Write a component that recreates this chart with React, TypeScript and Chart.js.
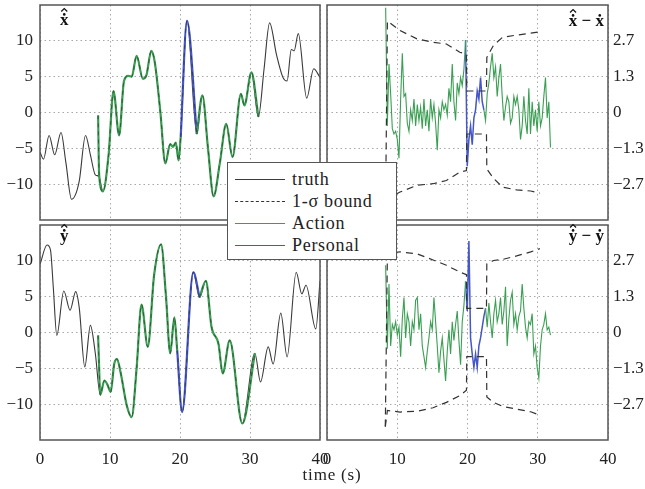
import React, { useEffect, useRef } from "react";
import { Chart, registerables } from "chart.js";

Chart.register(...registerables);

// ---------------- data ----------------
const TIME_TICKS = [0, 10, 20, 30, 40];
const TIME_TICK_LABELS = ["0", "10", "20", "30", "40"];
const STATE_TICKS = [-10, -5, 0, 5, 10];
const STATE_TICK_LABELS = ["−10", "−5", "0", "5", "10"];
const ERR_TICKS = [-2.667, -1.333, 0, 1.333, 2.667];
const ERR_TICK_LABELS = ["−2.7", "−1.3", "0", "1.3", "2.7"];

// truth, x panel
const TRUTH_X_T = [0, 0.5, 1.3, 2.1, 3.0, 3.7, 4.5, 5.6, 6.5, 7.2, 7.9, 8.4, 9.0, 9.8, 10.5, 11.3, 12.0, 12.6, 13.1, 13.8, 14.7, 15.2, 15.9, 16.4, 17.2, 17.9, 18.6, 19.0, 19.4, 19.8, 20.1, 21.0, 22.4, 23.2, 24.0, 24.8, 25.7, 26.6, 27.5, 28.7, 29.2, 30.2, 31.2, 32.0, 32.8, 33.8, 34.7, 35.3, 35.9, 36.3, 36.9, 38.1, 39.1, 40];
const TRUTH_X = [-5.5, -6.5, -3.2, -5.9, -2.8, -7.0, -12.1, -9.6, -3.2, -5.9, -8.7, -8.9, -11.0, -5.9, 3.0, -3.2, 4.4, 5.1, 5.0, 7.9, 4.7, 5.2, 8.6, 7.0, 0.0, -7.1, -4.4, -4.8, -4.2, -6.7, -3.4, 12.8, -3.0, 2.4, -5.0, -11.7, -7.0, -1.6, -6.2, 2.6, 1.0, 5.6, -0.6, 6.0, 12.5, 8.0, 4.9, 4.4, 8.8, 8.6, 11.0, 2.0, 6.1, 4.9];
// truth, y panel
const TRUTH_Y_T = [0, 1.0, 1.5, 1.9, 2.4, 3.4, 4.3, 5.1, 5.6, 6.4, 7.2, 7.9, 8.6, 9.2, 9.6, 10.1, 10.6, 11.0, 11.5, 12.4, 13.1, 13.8, 14.5, 15.4, 16.3, 17.3, 18.0, 18.6, 19.2, 19.6, 20.3, 21.9, 22.8, 23.7, 24.5, 25.5, 26.1, 27.1, 28.9, 30.7, 31.5, 32.6, 33.3, 34.4, 35.3, 36.6, 37.4, 38.0, 39.4, 40];
const TRUTH_Y = [9.5, 12.2, 11.5, 6.3, -0.4, 5.8, 3.1, 5.7, 3.5, -4.8, 1.0, -2.9, -8.7, -6.7, -7.2, -8.3, -4.4, -3.7, -5.5, -10.2, -11.8, -5.0, 3.9, -2.0, 8.0, 12.3, 5.0, -2.9, 2.1, -2.5, -11.1, 8.4, 4.9, 7.2, 0.8, -1.6, -5.7, -1.1, -12.7, -2.9, -6.9, -2.0, -4.4, 2.7, -3.4, 8.4, 5.4, 6.6, 0.5, 7.2];

// estimate start-up transients
const EST_X_INIT_T = [8.3, 8.45];
const EST_X_INIT = [-0.4, -8.7];
const EST_Y_INIT_T = [8.3, 8.42];
const EST_Y_INIT = [-0.4, -4.0];

// estimator mode periods (s)
const ACTION_X_SEGMENTS = [[8.5, 20.1], [22.4, 31.2]];
const PERSONAL_X_SEGMENT = [20.1, 22.4];
const ACTION_Y_SEGMENTS = [[8.5, 19.6], [22.8, 30.7]];
const PERSONAL_Y_SEGMENT = [19.6, 22.8];

// estimation errors, sampled every ERR_DT seconds from ERR_T0
const ERR_T0 = 8.35;
const ERR_DT = 0.237;
const ERR_X = [3.9, -0.5, 1.8, 0.7, -0.6, -0.8, -0.7, -1.0, -1.7, 0.5, 2.2, 0.6, 0.7, -0.4, -0.7, 0.1, -0.3, 0.5, -0.5, 0.3, -0.3, 0.2, -0.6, 0.5, -0.5, 0.1, -0.7, 0.5, -0.2, 0.3, -0.4, -1.4, 0.1, -0.2, 0.4, 0.1, 0.3, -0.1, 0.9, 0.4, 1.8, 0.4, -0.3, 1.1, 0.7, 1.3, 1.0, 1.6, 2.7,
  -2.0, -1.0, -0.5, -1.2, -0.2, 0.1, 0.8, 0.5, 1.3, 0.4, 0.1,
  -0.3, 0.7, 1.1, 1.7, 2.2, 1.3, 1.7, 0.6, 1.3, 1.8, 0.6, -0.3, 0.2, 0.6, 0.4, -0.4, -0.2, 0.6, 0.3, 0.6, 0.1, -1.0, -0.5, 0.6, -0.3, -0.8, 0.9, -0.8, 0.4, -0.5, 0.1, -0.7, 0.4, -0.5, -0.2, 0.6, 1.3, -0.2, 0.4, -1.3];
const ERR_Y = [2.5, -0.6, 1.8, -0.5, 0.3, 0.1, 0.4, -0.1, 0.2, -0.9, 0.5, 1.3, -0.2, 0.7, 0.4, -0.5, 0.4, 0.1, 1.2, 1.3, 0.1, 0.7, -0.5, -0.9, -1.3, -0.7, -0.2, 0.4, 0.1, 1.3, 0.4, -0.5, -1.5, -0.7, -0.2, -1.0, -1.8, -0.7, 0.1, -0.8, 0.4, -0.3, 0.3, 0.8, -0.3, -1.2, 0.4, 1.0, 1.9,
  0.8, 3.4, -0.2, -0.8, -1.3, -0.8, -1.3, -0.5, -0.2, 0.2, 0.6, 0.9,
  0.2, 1.1, 0.4, -0.2, 0.7, 1.2, 0.4, 0.7, 1.3, 0.3, 0.8, 1.7, -0.5, 0.5, 1.2, 1.5, 0.3, 0.7, 0.1, 0.6, 0.8, 1.8, 0.9, 0.2, -0.2, 0.4, 0.3, 0.7, -0.8, -0.5, -1.3, -1.7, -0.5, 0.1, 0.3, 0.7, 0.1, 0.2, -0.1];
const PERSONAL_ERR_X_IDX = [48, 59];
const PERSONAL_ERR_Y_IDX = [48, 60];

// 1-sigma bounds
const BOUND_T = [8.3, 8.6, 10.4, 12.8, 15.1, 17.0, 18.9, 19.85, 19.9, 22.7, 22.75, 23.7, 25.0, 27.0, 29.0, 30.3];
const BOUND_X_UP = [-4.5, 3.4, 3.05, 2.74, 2.61, 2.55, 2.24, 2.17, 0.8, 0.8, 2.05, 2.5, 2.8, 2.88, 2.95, 3.0];
const BOUND_X_LO = [-3.25, -3.2, -2.96, -2.71, -2.65, -2.53, -2.22, -2.16, -0.8, -0.8, -2.1, -2.45, -2.78, -2.88, -2.92, -3.0];
const BOUND_Y_UP = [-3.5, 2.95, 3.0, 2.93, 2.7, 2.5, 2.25, 2.15, 0.9, 0.9, 2.55, 2.68, 2.72, 2.85, 3.0, 3.12];
const BOUND_Y_LO = [-3.5, -2.9, -2.96, -2.93, -2.8, -2.6, -2.35, -2.15, -0.9, -0.9, -2.4, -2.6, -2.75, -2.85, -2.95, -3.08];

const LEGEND_LABELS = ["truth", "1-σ bound", "Action", "Personal"];
const AXIS_LABEL = "time (s)";

// panel titles: letters with hat / dot accents
type TitlePart = { text: string; hat?: boolean; dot?: boolean };
const TITLE_X: TitlePart[] = [{ text: "x", hat: true, dot: true }];
const TITLE_X_ERR: TitlePart[] = [{ text: "x", hat: true, dot: true }, { text: " − " }, { text: "x", dot: true }];
const TITLE_Y: TitlePart[] = [{ text: "y", hat: true, dot: true }];
const TITLE_Y_ERR: TitlePart[] = [{ text: "y", hat: true, dot: true }, { text: " − " }, { text: "y", dot: true }];

// ---------------- styles ----------------
const SERIF = '"Liberation Serif", "Times New Roman", "DejaVu Serif", serif';
const GRID_COLOR = "rgba(110,110,110,0.6)";
const FRAME_COLOR = "#555";
const TRUTH_COLOR = "#3a3a3a";
const ACTION_COLOR = "#3a9f52";
const PERSONAL_COLOR = "#4456c8";
const BOUND_COLOR = "#333";

Chart.defaults.font.family = SERIF;
Chart.defaults.color = "#222";

type Pt = { x: number; y: number };
const zip = (t: number[], v: number[]): Pt[] => t.map((x, i) => ({ x, y: v[i] }));
const inRange = (pts: Pt[], a: number, b: number) => pts.filter((p) => p.x >= a - 1e-6 && p.x <= b + 1e-6);
const errPoints = (vals: number[]): Pt[] => vals.map((y, i) => ({ x: ERR_T0 + i * ERR_DT, y }));

const lineDs = (data: Pt[], color: string, width: number, extra: any = {}) => ({
  data,
  borderColor: color,
  borderWidth: width,
  pointRadius: 0,
  fill: false,
  tension: 0,
  ...extra,
});

function stateDatasets(tt: number[], tv: number[], it: number[], iv: number[], act: number[][], pers: number[]) {
  const truth = zip(tt, tv);
  const smooth = { cubicInterpolationMode: "monotone" };
  const a1 = [...zip(it, iv), ...inRange(truth, act[0][0], act[0][1])];
  const a2 = inRange(truth, act[1][0], act[1][1]);
  const p = inRange(truth, pers[0], pers[1]);
  const segs = [a1, a2, p];
  const cols = [ACTION_COLOR, ACTION_COLOR, PERSONAL_COLOR];
  return [
    lineDs(truth, TRUTH_COLOR, 1.1, { ...smooth, order: 3 }),
    ...segs.map((s, i) => lineDs(s, cols[i], 2.2, { ...smooth, order: 2 })),
    ...segs.map((s) => lineDs(s, "rgba(40,40,40,0.75)", 0.8, { ...smooth, borderDash: [4, 4], order: 1 })),
  ];
}

function errDatasets(vals: number[], idx: number[], up: number[], lo: number[]) {
  const pts = errPoints(vals);
  return [
    lineDs(zip(BOUND_T, up), BOUND_COLOR, 1.2, { borderDash: [7, 5], order: 1 }),
    lineDs(zip(BOUND_T, lo), BOUND_COLOR, 1.2, { borderDash: [7, 5], order: 1 }),
    lineDs(pts.slice(0, idx[0] + 1), ACTION_COLOR, 1.1, { order: 2 }),
    lineDs(pts.slice(idx[1]), ACTION_COLOR, 1.1, { order: 2 }),
    lineDs(pts.slice(idx[0], idx[1] + 1), PERSONAL_COLOR, 1.5, { order: 2 }),
  ];
}

interface Box { left: number; top: number; width: number; height: number }
interface Area { left: number; top: number; right: number; bottom: number }
interface PanelSpec {
  key: string;
  canvas: Box;
  area: Area;
  side: "left" | "right";
  showX: boolean;
  title: TitlePart[];
  titleBaseline: number;
  yMin: number;
  yMax: number;
  yTicks: number[];
  yLabels: string[];
  datasets: any[];
}

function drawTitle(ctx: CanvasRenderingContext2D, parts: TitlePart[], x: number, baseline: number, align: "left" | "right") {
  ctx.font = `bold 17px ${SERIF}`;
  ctx.fillStyle = "#111";
  ctx.strokeStyle = "#111";
  ctx.textBaseline = "alphabetic";
  ctx.textAlign = "left";
  const widths = parts.map((p) => ctx.measureText(p.text).width);
  const total = widths.reduce((s, w) => s + w, 0);
  let cx = align === "left" ? x : x - total;
  parts.forEach((p, i) => {
    ctx.fillText(p.text, cx, baseline);
    const mid = cx + widths[i] / 2;
    const top = baseline - 8;
    if (p.dot) {
      ctx.beginPath();
      ctx.arc(mid, top - 2.6, 1.3, 0, Math.PI * 2);
      ctx.fill();
    }
    if (p.hat) {
      ctx.beginPath();
      ctx.lineWidth = 1.2;
      ctx.moveTo(mid - 3, top - 5.5);
      ctx.lineTo(mid, top - 8.5);
      ctx.lineTo(mid + 3, top - 5.5);
      ctx.stroke();
    }
    cx += widths[i];
  });
}

const framePlugin = (s: PanelSpec) => ({
  id: "frameAndTitle",
  afterDraw(chart: any) {
    const { ctx, chartArea: ca } = chart;
    ctx.save();
    ctx.strokeStyle = FRAME_COLOR;
    ctx.lineWidth = 1.5;
    ctx.strokeRect(ca.left, ca.top, ca.right - ca.left, ca.bottom - ca.top);
    if (s.side === "left") drawTitle(ctx, s.title, ca.left + 20, ca.top + s.titleBaseline, "left");
    else drawTitle(ctx, s.title, ca.right - 4, ca.top + s.titleBaseline, "right");
    ctx.restore();
  },
});

function makeConfig(s: PanelSpec): any {
  const c = s.canvas;
  const a = s.area;
  const padL = s.side === "left" ? 0 : a.left - c.left;
  const padR = s.side === "left" ? c.left + c.width - a.right : 0;
  const yW = s.side === "left" ? a.left - c.left : c.left + c.width - a.right;
  const padT = a.top - c.top;
  const xH = c.top + c.height - a.bottom;
  const tickFont = { size: 17, family: SERIF };
  return {
    type: "line",
    data: { datasets: s.datasets },
    options: {
      responsive: false,
      animation: false,
      events: [],
      layout: { padding: { left: padL, right: padR, top: padT, bottom: 0 } },
      plugins: { legend: { display: false }, tooltip: { enabled: false }, title: { display: false } },
      elements: { point: { radius: 0 } },
      scales: {
        x: {
          type: "linear",
          min: 0,
          max: 40,
          afterBuildTicks: (sc: any) => {
            sc.ticks = TIME_TICKS.map((v) => ({ value: v }));
          },
          afterFit: (sc: any) => {
            sc.height = xH;
            sc.paddingLeft = 0;
            sc.paddingRight = 0;
          },
          grid: { color: GRID_COLOR, lineWidth: 1, drawTicks: false },
          border: { display: false, dash: [1.5, 3] },
          ticks: {
            display: s.showX,
            padding: 9,
            maxRotation: 0,
            autoSkip: false,
            font: tickFont,
            color: "#222",
            callback: (_v: any, i: number) => TIME_TICK_LABELS[i],
          },
        },
        y: {
          type: "linear",
          position: s.side,
          min: s.yMin,
          max: s.yMax,
          afterBuildTicks: (sc: any) => {
            sc.ticks = s.yTicks.map((v) => ({ value: v }));
          },
          afterFit: (sc: any) => {
            sc.width = yW;
            sc.paddingTop = 0;
            sc.paddingBottom = 0;
          },
          grid: { color: GRID_COLOR, lineWidth: 1, drawTicks: false },
          border: { display: false, dash: [1.5, 3] },
          ticks: {
            padding: s.side === "left" ? 7 : 5,
            autoSkip: false,
            font: tickFont,
            color: "#222",
            callback: (_v: any, i: number) => s.yLabels[i],
          },
        },
      },
    },
    plugins: [framePlugin(s)],
  };
}

const PANELS: PanelSpec[] = [
  {
    key: "x",
    canvas: { left: 0, top: 0, width: 330, height: 224 },
    area: { left: 40, top: 5, right: 320, bottom: 220 },
    side: "left",
    showX: false,
    title: TITLE_X,
    titleBaseline: 20,
    yMin: -15,
    yMax: 15,
    yTicks: STATE_TICKS,
    yLabels: STATE_TICK_LABELS,
    datasets: stateDatasets(TRUTH_X_T, TRUTH_X, EST_X_INIT_T, EST_X_INIT, ACTION_X_SEGMENTS, PERSONAL_X_SEGMENT),
  },
  {
    key: "ex",
    canvas: { left: 318, top: 0, width: 327, height: 224 },
    area: { left: 327, top: 5, right: 608, bottom: 220 },
    side: "right",
    showX: false,
    title: TITLE_X_ERR,
    titleBaseline: 21,
    yMin: -4,
    yMax: 4,
    yTicks: ERR_TICKS,
    yLabels: ERR_TICK_LABELS,
    datasets: errDatasets(ERR_X, PERSONAL_ERR_X_IDX, BOUND_X_UP, BOUND_X_LO),
  },
  {
    key: "y",
    canvas: { left: 0, top: 222, width: 336, height: 267 },
    area: { left: 40, top: 225, right: 320, bottom: 440 },
    side: "left",
    showX: true,
    title: TITLE_Y,
    titleBaseline: 16,
    yMin: -15,
    yMax: 15,
    yTicks: STATE_TICKS,
    yLabels: STATE_TICK_LABELS,
    datasets: stateDatasets(TRUTH_Y_T, TRUTH_Y, EST_Y_INIT_T, EST_Y_INIT, ACTION_Y_SEGMENTS, PERSONAL_Y_SEGMENT),
  },
  {
    key: "ey",
    canvas: { left: 310, top: 222, width: 335, height: 267 },
    area: { left: 327, top: 225, right: 608, bottom: 440 },
    side: "right",
    showX: true,
    title: TITLE_Y_ERR,
    titleBaseline: 16,
    yMin: -4,
    yMax: 4,
    yTicks: ERR_TICKS,
    yLabels: ERR_TICK_LABELS,
    datasets: errDatasets(ERR_Y, PERSONAL_ERR_Y_IDX, BOUND_Y_UP, BOUND_Y_LO),
  },
];

function Panel({ spec }: { spec: PanelSpec }) {
  const ref = useRef<HTMLCanvasElement>(null);
  useEffect(() => {
    const chart = new Chart(ref.current as HTMLCanvasElement, makeConfig(spec));
    return () => chart.destroy();
  }, []);
  const c = spec.canvas;
  return (
    <canvas
      ref={ref}
      width={c.width}
      height={c.height}
      style={{ position: "absolute", left: c.left, top: c.top, width: c.width, height: c.height }}
    />
  );
}

const LEGEND_STYLES = [
  { color: TRUTH_COLOR, dash: "solid" },
  { color: BOUND_COLOR, dash: "dashed" },
  { color: ACTION_COLOR, dash: "solid" },
  { color: PERSONAL_COLOR, dash: "solid" },
];

function Legend() {
  return (
    <div
      style={{
        position: "absolute",
        left: 227,
        top: 162,
        width: 170,
        height: 98,
        background: "#fff",
        border: `1.5px solid ${FRAME_COLOR}`,
        boxSizing: "border-box",
        fontFamily: SERIF,
        fontSize: 18,
        color: "#222",
        zIndex: 5,
      }}
    >
      {LEGEND_LABELS.map((label, i) => (
        <div key={label} style={{ position: "absolute", left: 0, top: 5 + i * 22, height: 22, width: 165 }}>
          <div
            style={{
              position: "absolute",
              left: 7,
              top: 11,
              width: 50,
              borderTop: `1.5px ${LEGEND_STYLES[i].dash} ${LEGEND_STYLES[i].color}`,
            }}
          />
          <div style={{ position: "absolute", left: 64, top: 0, lineHeight: "22px", letterSpacing: "0.7px", whiteSpace: "nowrap" }}>
            {label}
          </div>
        </div>
      ))}
    </div>
  );
}

export default function App() {
  return (
    <div style={{ position: "absolute", left: 0, top: 0, width: 645, height: 489, background: "#fff", overflow: "hidden" }}>
      {PANELS.map((p) => (
        <Panel key={p.key} spec={p} />
      ))}
      <Legend />
      <div
        style={{
          position: "absolute",
          left: 282,
          top: 465,
          width: 100,
          textAlign: "center",
          fontFamily: SERIF,
          fontSize: 17,
          lineHeight: "20px",
          letterSpacing: "0.8px",
          color: "#222",
        }}
      >
        {AXIS_LABEL}
      </div>
    </div>
  );
}
